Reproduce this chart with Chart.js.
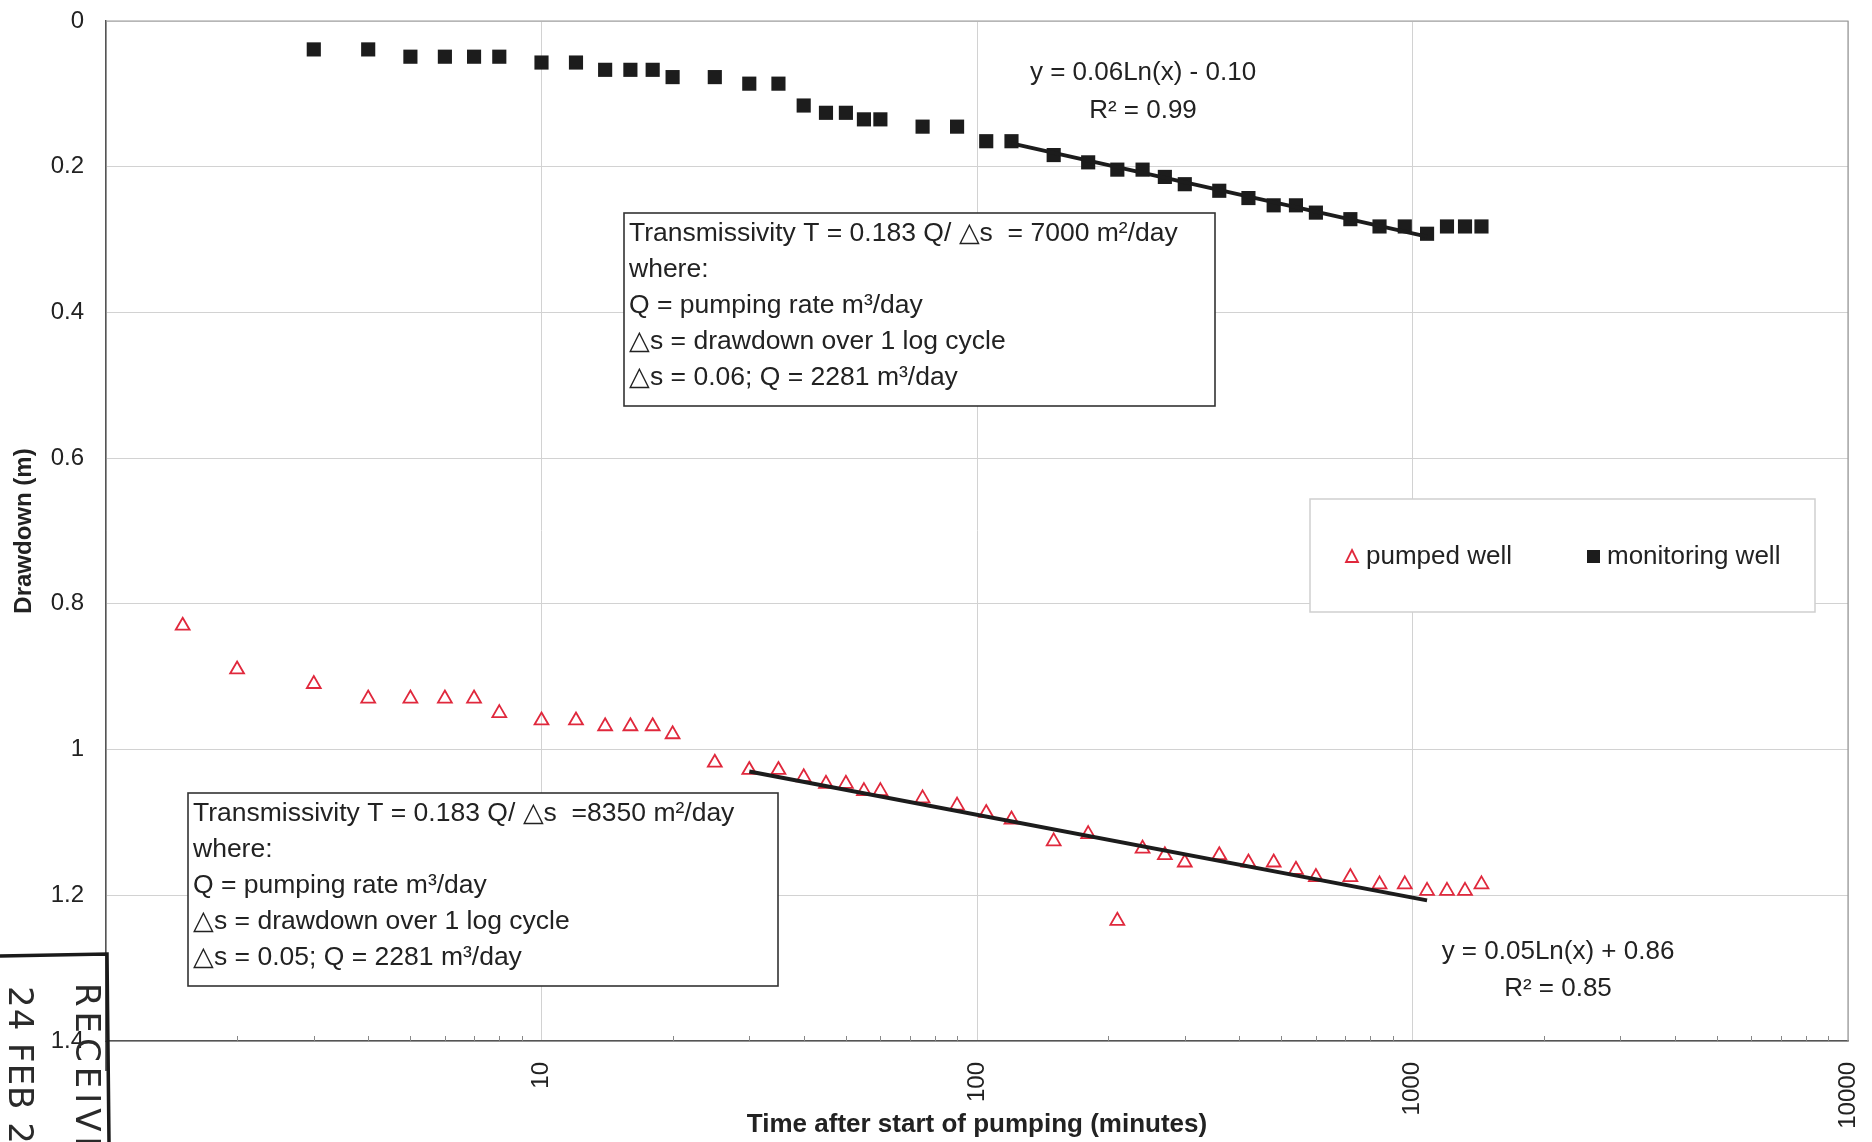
<!DOCTYPE html>
<html><head><meta charset="utf-8">
<script src="https://cdn.jsdelivr.net/npm/chart.js@4.4.1/dist/chart.umd.min.js"></script>
<style>html,body{margin:0;padding:0;background:#fff;overflow:hidden}canvas{display:block}</style>
</head><body>
<canvas id="c" width="1872" height="1142"></canvas>
<script>
// ---- data ----
const pumpedTime = [1.5,2,3,4,5,6,7,8,10,12,14,16,18,20,25,30,35,40,45,50,55,60,75,90,105,120,150,180,210,240,270,300,360,420,480,540,600,720,840,960,1080,1200,1320,1440];
const pumpedDrawdown = [0.83,0.89,0.91,0.93,0.93,0.93,0.93,0.95,0.96,0.96,0.968,0.968,0.968,0.979,1.018,1.028,1.028,1.038,1.047,1.047,1.057,1.057,1.067,1.077,1.087,1.096,1.126,1.116,1.235,1.136,1.145,1.155,1.145,1.155,1.155,1.165,1.175,1.175,1.185,1.185,1.194,1.194,1.194,1.185];
const monitoringTime = [3,4,5,6,7,8,10,12,14,16,18,20,25,30,35,40,45,50,55,60,75,90,105,120,150,180,210,240,270,300,360,420,480,540,600,720,840,960,1080,1200,1320,1440];
const monitoringDrawdown = [0.039,0.039,0.049,0.049,0.049,0.049,0.057,0.057,0.067,0.067,0.067,0.077,0.077,0.086,0.086,0.116,0.126,0.126,0.135,0.135,0.145,0.145,0.165,0.165,0.184,0.194,0.204,0.204,0.214,0.224,0.233,0.243,0.253,0.253,0.263,0.272,0.282,0.282,0.292,0.282,0.282,0.282];
const monitoringTrendTime = [120, 1080];
const monitoringTrendDrawdown = [0.168, 0.296];
const pumpedTrendTime = [30, 1080];
const pumpedTrendDrawdown = [1.03, 1.207];

const xMajorTicks = [1, 10, 100, 1000, 10000];
const xTickLabels = ['', '10', '100', '1000', '10000']; // "1" is hidden under the stamp
const yTickValues = [0, 0.2, 0.4, 0.6, 0.8, 1, 1.2, 1.4];
const yTickLabels = ['0', '0.2', '0.4', '0.6', '0.8', '1', '1.2', '1.4'];
const seriesNames = ['pumped well', 'monitoring well'];
const xTitle = 'Time after start of pumping (minutes)';
const yTitle = 'Drawdown (m)';
const eqMonitoring = ['y = 0.06Ln(x) - 0.10', 'R\u00B2 = 0.99'];
const eqPumped = ['y = 0.05Ln(x) + 0.86', 'R\u00B2 = 0.85'];
const noteMonitoring = [
  'Transmissivity T = 0.183 Q/ \u25B3s  = 7000 m\u00B2/day',
  'where:',
  'Q = pumping rate m\u00B3/day',
  '\u25B3s = drawdown over 1 log cycle',
  '\u25B3s = 0.06; Q = 2281 m\u00B3/day'
];
const notePumped = [
  'Transmissivity T = 0.183 Q/ \u25B3s  =8350 m\u00B2/day',
  'where:',
  'Q = pumping rate m\u00B3/day',
  '\u25B3s = drawdown over 1 log cycle',
  '\u25B3s = 0.05; Q = 2281 m\u00B3/day'
];
const stampLines = ['RECEIVED', '24 FEB 20'];

// ---- styling ----
const FONT = "'Liberation Sans', Arial, sans-serif";
const RED = '#e0283c';
const BLACK = '#1c1c1c';
const TEXT = '#222';

const toPts = (xs, ys) => xs.map((x, i) => ({x: x, y: ys[i]}));

const overlay = {
  id: 'overlay',
  beforeDatasetsDraw(chart) {
    const ctx = chart.ctx, a = chart.chartArea, xs = chart.scales.x;
    ctx.save();
    ctx.strokeStyle = '#9a9a9a'; ctx.lineWidth = 1.2;
    ctx.beginPath(); ctx.moveTo(a.left, a.top); ctx.lineTo(a.right, a.top); ctx.lineTo(a.right, a.bottom); ctx.stroke();
    ctx.strokeStyle = '#888'; ctx.lineWidth = 1;
    for (let d = 0; d < xMajorTicks.length - 1; d++) {
      for (let m = 2; m <= 9; m++) {
        const px = Math.round(xs.getPixelForValue(xMajorTicks[d] * m)) + 0.5;
        ctx.beginPath(); ctx.moveTo(px, a.bottom); ctx.lineTo(px, a.bottom - 5); ctx.stroke();
      }
    }
    ctx.strokeStyle = '#333'; ctx.lineWidth = 1.5;
    ctx.beginPath(); ctx.moveTo(a.left, a.bottom); ctx.lineTo(a.left, a.bottom + 30); ctx.stroke();
    ctx.restore();
  },
  afterDraw(chart) {
    const ctx = chart.ctx;
    ctx.save();
    const drawNote = (lines, x0, y0, w, h) => {
      ctx.fillStyle = '#fff'; ctx.fillRect(x0, y0, w, h);
      ctx.strokeStyle = '#333'; ctx.lineWidth = 1.6; ctx.strokeRect(x0, y0, w, h);
      ctx.fillStyle = TEXT; ctx.font = '26.5px ' + FONT; ctx.textAlign = 'left'; ctx.textBaseline = 'middle';
      lines.forEach((t, i) => ctx.fillText(t, x0 + 5, y0 + 21 + i * 36));
    };
    drawNote(noteMonitoring, 624, 213, 591, 193);
    drawNote(notePumped, 188, 793, 590, 193);
    ctx.fillStyle = TEXT; ctx.font = '26px ' + FONT; ctx.textAlign = 'center'; ctx.textBaseline = 'middle';
    ctx.fillText(eqMonitoring[0], 1143, 73); ctx.fillText(eqMonitoring[1], 1143, 111);
    ctx.fillText(eqPumped[0], 1558, 952); ctx.fillText(eqPumped[1], 1558, 989);
    // legend
    ctx.fillStyle = '#fff'; ctx.fillRect(1310, 499, 505, 113);
    ctx.strokeStyle = '#cfcfcf'; ctx.lineWidth = 1.5; ctx.strokeRect(1310, 499, 505, 113);
    const ly = 557;
    ctx.strokeStyle = RED; ctx.lineWidth = 1.8;
    ctx.beginPath(); ctx.moveTo(1352, ly - 7); ctx.lineTo(1358, ly + 5); ctx.lineTo(1346, ly + 5); ctx.closePath(); ctx.stroke();
    ctx.fillStyle = BLACK; ctx.fillRect(1587, ly - 7, 13, 13);
    ctx.fillStyle = TEXT; ctx.font = '26px ' + FONT; ctx.textAlign = 'left'; ctx.textBaseline = 'middle';
    ctx.fillText(seriesNames[0], 1366, ly);
    ctx.fillText(seriesNames[1], 1607, ly);
    // stamp
    ctx.strokeStyle = '#1a1a1a'; ctx.lineWidth = 3.5;
    ctx.beginPath(); ctx.moveTo(0, 956); ctx.lineTo(107, 954); ctx.lineTo(109, 1142); ctx.stroke();
    ctx.fillStyle = '#2a2a2a'; ctx.font = '34px "DejaVu Sans", sans-serif'; ctx.textAlign = 'left'; ctx.textBaseline = 'middle';
    try { ctx.letterSpacing = '5px'; } catch (e) {}
    ctx.save(); ctx.translate(85, 983); ctx.rotate(Math.PI / 2); ctx.fillText(stampLines[0], 0, 0); ctx.restore();
    try { ctx.letterSpacing = '1px'; } catch (e) {}
    ctx.save(); ctx.translate(18, 986); ctx.rotate(Math.PI / 2); ctx.fillText(stampLines[1], 0, 0); ctx.restore();
    ctx.restore();
  }
};

new Chart(document.getElementById('c'), {
  type: 'scatter',
  data: {
    datasets: [
      { label: 'monitoring trend', type: 'line', data: toPts(monitoringTrendTime, monitoringTrendDrawdown),
        borderColor: BLACK, borderWidth: 4, pointRadius: 0, fill: false, order: 0 },
      { label: 'pumped trend', type: 'line', data: toPts(pumpedTrendTime, pumpedTrendDrawdown),
        borderColor: BLACK, borderWidth: 4, pointRadius: 0, fill: false, order: 0 },
      { label: seriesNames[0], data: toPts(pumpedTime, pumpedDrawdown), pointStyle: 'triangle', pointRadius: 8,
        borderColor: RED, backgroundColor: 'rgba(0,0,0,0)', pointBorderWidth: 1.8, showLine: false, order: 1 },
      { label: seriesNames[1], data: toPts(monitoringTime, monitoringDrawdown), pointStyle: 'rect', pointRadius: 10,
        borderColor: BLACK, backgroundColor: BLACK, pointBorderWidth: 0, showLine: false, order: 1 }
    ]
  },
  options: {
    responsive: false, animation: false, devicePixelRatio: 1,
    layout: { padding: { top: 21, right: 24, left: 0, bottom: 0 } },
    plugins: { legend: { display: false }, tooltip: { enabled: false } },
    scales: {
      x: {
        type: 'logarithmic', min: 1, max: 10000, position: 'bottom',
        afterBuildTicks(s) {
          const vals = [];
          for (let d = 0; d < xMajorTicks.length; d++) {
            vals.push(xMajorTicks[d]);
            if (d < xMajorTicks.length - 1) for (let m = 2; m <= 9; m++) vals.push(xMajorTicks[d] * m);
          }
          s.ticks = vals.map(v => ({ value: v }));
        },
        ticks: {
          autoSkip: false, maxRotation: 90, minRotation: 90, padding: 21, color: TEXT,
          font: { family: FONT, size: 24 },
          callback(v) { const i = xMajorTicks.indexOf(v); return i >= 0 ? xTickLabels[i] : ''; }
        },
        grid: { color: c => (c.tick && xMajorTicks.includes(c.tick.value)) ? '#d2d2d2' : 'rgba(0,0,0,0)', drawTicks: false, lineWidth: 1 },
        border: { color: '#555', width: 1.5 },
        title: { display: true, text: xTitle, color: TEXT, font: { family: FONT, size: 26, weight: 'bold' }, padding: { top: 0, bottom: 2 } },
        afterFit(s) { s.height = 101; s.paddingLeft = 0; s.paddingRight = 0; }
      },
      y: {
        type: 'linear', reverse: true, min: 0, max: 1.4,
        ticks: { stepSize: 0.2, padding: 22, color: TEXT, font: { family: FONT, size: 24 },
          callback(v) {
            let best = 0;
            yTickValues.forEach((t, i) => { if (Math.abs(t - v) < Math.abs(yTickValues[best] - v)) best = i; });
            return yTickLabels[best];
          } },
        grid: { color: '#d2d2d2', drawTicks: false, lineWidth: 1 },
        border: { color: '#555', width: 1.5 },
        title: { display: true, text: yTitle, color: TEXT, font: { family: FONT, size: 24, weight: 'bold' }, padding: { top: 10, bottom: 0 } },
        afterFit(s) { s.width = 106; s.paddingTop = 0; s.paddingBottom = 0; }
      }
    }
  },
  plugins: [overlay]
});
</script>
</body></html>
